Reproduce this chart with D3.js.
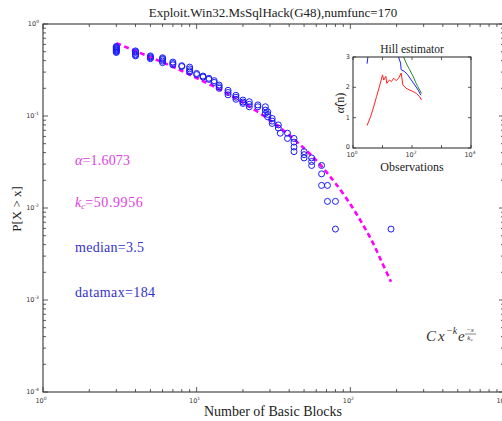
<!DOCTYPE html>
<html>
<head>
<meta charset="utf-8">
<script src="https://cdn.jsdelivr.net/npm/d3@7.9.0/dist/d3.min.js"></script>
<style>
  body { margin: 0; background: #fff; }
  svg { display: block; }
  .serif { font-family: "Liberation Serif", "DejaVu Serif", serif; }
  .tick { font-family: "DejaVu Sans", sans-serif; font-size: 6.5px; fill: #333; }
</style>
</head>
<body>
<div id="chart"></div>
<script>
// observed points: x (basic blocks) and P[X > x]
const obsX = [3,3,3,3,3,3,3,3,3, 4,4,4,4,4,4, 5,5,5,5, 6,6,6,6,6, 7,7,7, 8,8, 9,9,9,9, 10,10, 11,11, 12,12, 13,13,
  14,14,14, 16,16,16, 18,18,18, 20,20,20, 22,22,22, 25,25, 28,28,28, 29,29,29, 31,31,31, 34,34, 35,
  39,39, 43,43,43,43, 50,50,50, 56,56,56, 65,65,65, 71,71, 80,80, 184];
const obsP = [0.57,0.56,0.55,0.54,0.53,0.52,0.51,0.50,0.49, 0.51,0.50,0.49,0.47,0.46,0.45, 0.45,0.44,0.43,0.42,
  0.43,0.42,0.41,0.395,0.38,
  0.386,0.372,0.36, 0.352,0.345, 0.34,0.325,0.31,0.30, 0.29,0.282, 0.272,0.265, 0.257,0.25, 0.242,0.232,
  0.217,0.208,0.20, 0.19,0.18,0.17, 0.168,0.16,0.152, 0.149,0.142,0.137, 0.143,0.134,0.126, 0.132,0.126,
  0.126,0.116,0.107, 0.111,0.104,0.098, 0.094,0.088,0.083, 0.080,0.074, 0.065, 0.065,0.057,
  0.057,0.052,0.046,0.041, 0.041,0.038,0.035, 0.035,0.032,0.029, 0.029,0.0235,0.0176, 0.0176,0.0118,
  0.0118,0.0059, 0.0059];

// fitted curve
const fitX = [3,5,7,10,15,20,30,40,50,60,70,80,100,120,140,160,184];
const fitP = [0.62,0.435,0.343,0.259,0.184,0.14,0.09,0.062,0.0445,0.033,0.0245,0.0186,0.011,0.0067,0.0042,0.0026,0.00158];

// Hill estimator inset
const redN = [3,4,5,6.3,8,10,11,13,14,17,20,24,29,35,43,49,63,83,110,141,182,209];
const redA = [0.74,1.05,1.35,1.7,2.05,2.41,2.24,2.36,2.13,2.24,2.19,2.3,2.22,2.3,2.47,2.08,1.97,1.91,1.86,1.8,1.69,1.58];
const blueAN = [3,3.2,3.5];
const blueAA = [2.78,3.0,3.3];
const blueBN = [32,35,41,43,56,72,95,123,162,200];
const blueBA = [3.3,3.0,2.8,2.58,2.52,2.41,2.24,2.08,1.91,1.74];
const greenN = [45,52,62,72,84,95,110,123,140,158,185,209];
const greenA = [3.2,3.0,2.82,2.69,2.58,2.47,2.36,2.24,2.12,2.02,1.9,1.8];

const titleText = "Exploit.Win32.MsSqlHack(G48),numfunc=170";
const xTickExp = [0, 1, 2, 3];
const yTickExp = [0, -1, -2, -3, -4];

const width = 502, height = 421;
const svg = d3.select('#chart').append('svg')
  .attr('width', width).attr('height', height);

const x = d3.scaleLog().domain([1, 1000]).range([43, 504]);
const y = d3.scaleLog().domain([1e-4, 1]).range([392, 24]);

// frame
svg.append('rect')
  .attr('x', 43).attr('y', 24).attr('width', 504 - 43).attr('height', 392 - 24)
  .attr('fill', 'none').attr('stroke', '#222').attr('stroke-width', 1);

// ticks (inward, all four sides)
const ticksG = svg.append('g').attr('stroke', '#333').attr('stroke-width', 0.8);
x.ticks().forEach(t => {
  const major = Math.abs(Math.log10(t) - Math.round(Math.log10(t))) < 1e-9;
  const len = major ? 5 : 3;
  ticksG.append('line').attr('x1', x(t)).attr('x2', x(t)).attr('y1', 392).attr('y2', 392 - len);
  ticksG.append('line').attr('x1', x(t)).attr('x2', x(t)).attr('y1', 24).attr('y2', 24 + len);
});
y.ticks().forEach(t => {
  const major = Math.abs(Math.log10(t) - Math.round(Math.log10(t))) < 1e-9;
  const len = major ? 5 : 3;
  ticksG.append('line').attr('x1', 43).attr('x2', 43 + len).attr('y1', y(t)).attr('y2', y(t));
  ticksG.append('line').attr('x1', 504).attr('x2', 504 - len).attr('y1', y(t)).attr('y2', y(t));
});

// tick labels
xTickExp.forEach(e => {
  const t = svg.append('text').attr('class', 'tick')
    .attr('x', x(Math.pow(10, e)) - 2).attr('y', 403).attr('text-anchor', 'middle');
  t.append('tspan').text('10');
  t.append('tspan').attr('dy', -3).attr('font-size', '4.5px').text(e);
});
yTickExp.forEach(e => {
  const t = svg.append('text').attr('class', 'tick')
    .attr('x', 39).attr('y', y(Math.pow(10, e)) + 2).attr('text-anchor', 'end');
  t.append('tspan').text('10');
  t.append('tspan').attr('dy', -3).attr('font-size', '4.5px').text(e);
});

// title and axis labels
svg.append('text').attr('class', 'serif')
  .attr('x', 273).attr('y', 17).attr('text-anchor', 'middle')
  .attr('font-size', '13px').attr('fill', '#222').text(titleText);
svg.append('text').attr('class', 'serif')
  .attr('x', 273).attr('y', 416).attr('text-anchor', 'middle')
  .attr('font-size', '14px').attr('fill', '#222').text('Number of Basic Blocks');
svg.append('text').attr('class', 'serif')
  .attr('transform', 'translate(21,209) rotate(-90)').attr('text-anchor', 'middle')
  .attr('font-size', '13px').attr('fill', '#222').text('P[X > x]');

// fitted dashed curve
const fitLine = d3.line()
  .x((d, i) => x(fitX[i]))
  .y((d, i) => y(fitP[i]))
  .curve(d3.curveCatmullRom);
svg.append('path').datum(fitX)
  .attr('d', fitLine)
  .attr('fill', 'none').attr('stroke', '#ff00ff').attr('stroke-width', 2.6)
  .attr('stroke-dasharray', '5,3.5');

// observed circles
svg.append('g').selectAll('circle')
  .data(obsX)
  .join('circle')
  .attr('cx', (d) => x(d))
  .attr('cy', (d, i) => y(obsP[i]))
  .attr('r', 3)
  .attr('fill', 'none')
  .attr('stroke', '#1a1aff')
  .attr('stroke-width', 1);

// annotations
const ann = svg.append('g').attr('class', 'serif').attr('font-size', '14px');
const a1 = ann.append('text').attr('x', 75).attr('y', 165).attr('fill', '#e040e0')
  .attr('textLength', 55).attr('lengthAdjust', 'spacing');
a1.append('tspan').attr('font-style', 'italic').text('α');
a1.append('tspan').text('=1.6073');
const a2 = ann.append('text').attr('x', 75).attr('y', 207).attr('fill', '#e040e0');
a2.append('tspan').attr('font-style', 'italic').text('k');
a2.append('tspan').attr('font-style', 'italic').attr('font-size', '9px').attr('dy', 2).text('c');
a2.append('tspan').attr('dy', -2).attr('letter-spacing', '0.6px').text('=50.9956');
ann.append('text').attr('x', 75).attr('y', 252).attr('fill', '#3333cc')
  .attr('textLength', 69).attr('lengthAdjust', 'spacing').text('median=3.5');
ann.append('text').attr('x', 75).attr('y', 297).attr('fill', '#3333cc')
  .attr('textLength', 80).attr('lengthAdjust', 'spacing').text('datamax=184');

// formula C x^{-k} e^{-x/k_c}
const f = svg.append('g').attr('class', 'serif').attr('fill', '#333').attr('font-style', 'italic');
f.append('text').attr('x', 426).attr('y', 341).attr('font-size', '15px').text('C');
f.append('text').attr('x', 438).attr('y', 341).attr('font-size', '15px').text('x');
f.append('text').attr('x', 446).attr('y', 334).attr('font-size', '10px').text('−k');
f.append('text').attr('x', 458).attr('y', 341).attr('font-size', '15px').text('e');
f.append('text').attr('x', 470).attr('y', 332).attr('font-size', '7px')
  .attr('text-anchor', 'middle').text('−x');
f.append('line').attr('x1', 465).attr('x2', 476).attr('y1', 334).attr('y2', 334)
  .attr('stroke', '#333').attr('stroke-width', 0.6);
const fd = f.append('text').attr('x', 470).attr('y', 339.5).attr('font-size', '7px')
  .attr('text-anchor', 'middle');
fd.append('tspan').text('k');
fd.append('tspan').attr('font-size', '5px').attr('dy', 1).text('c');

// ---- inset: Hill estimator ----
const ix = d3.scaleLog().domain([1, 1e4]).range([353, 471]);
const iy = d3.scaleLinear().domain([0, 3]).range([148, 57]);

svg.append('rect').attr('x', 353).attr('y', 57).attr('width', 471 - 353).attr('height', 148 - 57)
  .attr('fill', '#fff');

svg.append('defs').append('clipPath').attr('id', 'iclip')
  .append('rect').attr('x', 353).attr('y', 57).attr('width', 471 - 353).attr('height', 148 - 57);

const inset = svg.append('g').attr('clip-path', 'url(#iclip)');
function hill(ns, as, color) {
  const line = d3.line().x((d, i) => ix(ns[i])).y((d, i) => iy(as[i]));
  inset.append('path').datum(ns).attr('d', line)
    .attr('fill', 'none').attr('stroke', color).attr('stroke-width', 1);
}
hill(greenN, greenA, '#1f8a1f');
hill(blueAN, blueAA, '#2020ff');
hill(blueBN, blueBA, '#2020ff');
hill(redN, redA, '#ff2020');

svg.append('rect').attr('x', 353).attr('y', 57).attr('width', 471 - 353).attr('height', 148 - 57)
  .attr('fill', 'none').attr('stroke', '#222').attr('stroke-width', 1);

const iTicks = svg.append('g').attr('stroke', '#333').attr('stroke-width', 0.8);
[1, 10, 100, 1000, 10000].forEach(t => {
  iTicks.append('line').attr('x1', ix(t)).attr('x2', ix(t)).attr('y1', 148).attr('y2', 145);
  iTicks.append('line').attr('x1', ix(t)).attr('x2', ix(t)).attr('y1', 57).attr('y2', 60);
});
[0, 1, 2, 3].forEach(t => {
  iTicks.append('line').attr('x1', 353).attr('x2', 356).attr('y1', iy(t)).attr('y2', iy(t));
  iTicks.append('line').attr('x1', 471).attr('x2', 468).attr('y1', iy(t)).attr('y2', iy(t));
  svg.append('text').attr('class', 'tick').attr('x', 350).attr('y', iy(t) + (t === 0 ? 0.5 : 2))
    .attr('text-anchor', 'end').text(t);
});
[0, 2, 4].forEach(e => {
  const t = svg.append('text').attr('class', 'tick')
    .attr('x', ix(Math.pow(10, e)) - 1).attr('y', 157).attr('text-anchor', 'middle');
  t.append('tspan').text('10');
  t.append('tspan').attr('dy', -3).attr('font-size', '4.5px').text(e);
});

svg.append('text').attr('class', 'serif').attr('x', 412).attr('y', 53)
  .attr('text-anchor', 'middle').attr('font-size', '11.5px').attr('fill', '#222').text('Hill estimator');
svg.append('text').attr('class', 'serif').attr('x', 412).attr('y', 171)
  .attr('text-anchor', 'middle').attr('font-size', '12px').attr('fill', '#222').text('Observations');
const iyl = svg.append('text').attr('class', 'serif')
  .attr('transform', 'translate(344,103) rotate(-90)').attr('text-anchor', 'middle')
  .attr('font-size', '12px').attr('fill', '#222');
iyl.append('tspan').attr('font-style', 'italic').text('α̂');
iyl.append('tspan').text('(n)');
</script>
</body>
</html>
